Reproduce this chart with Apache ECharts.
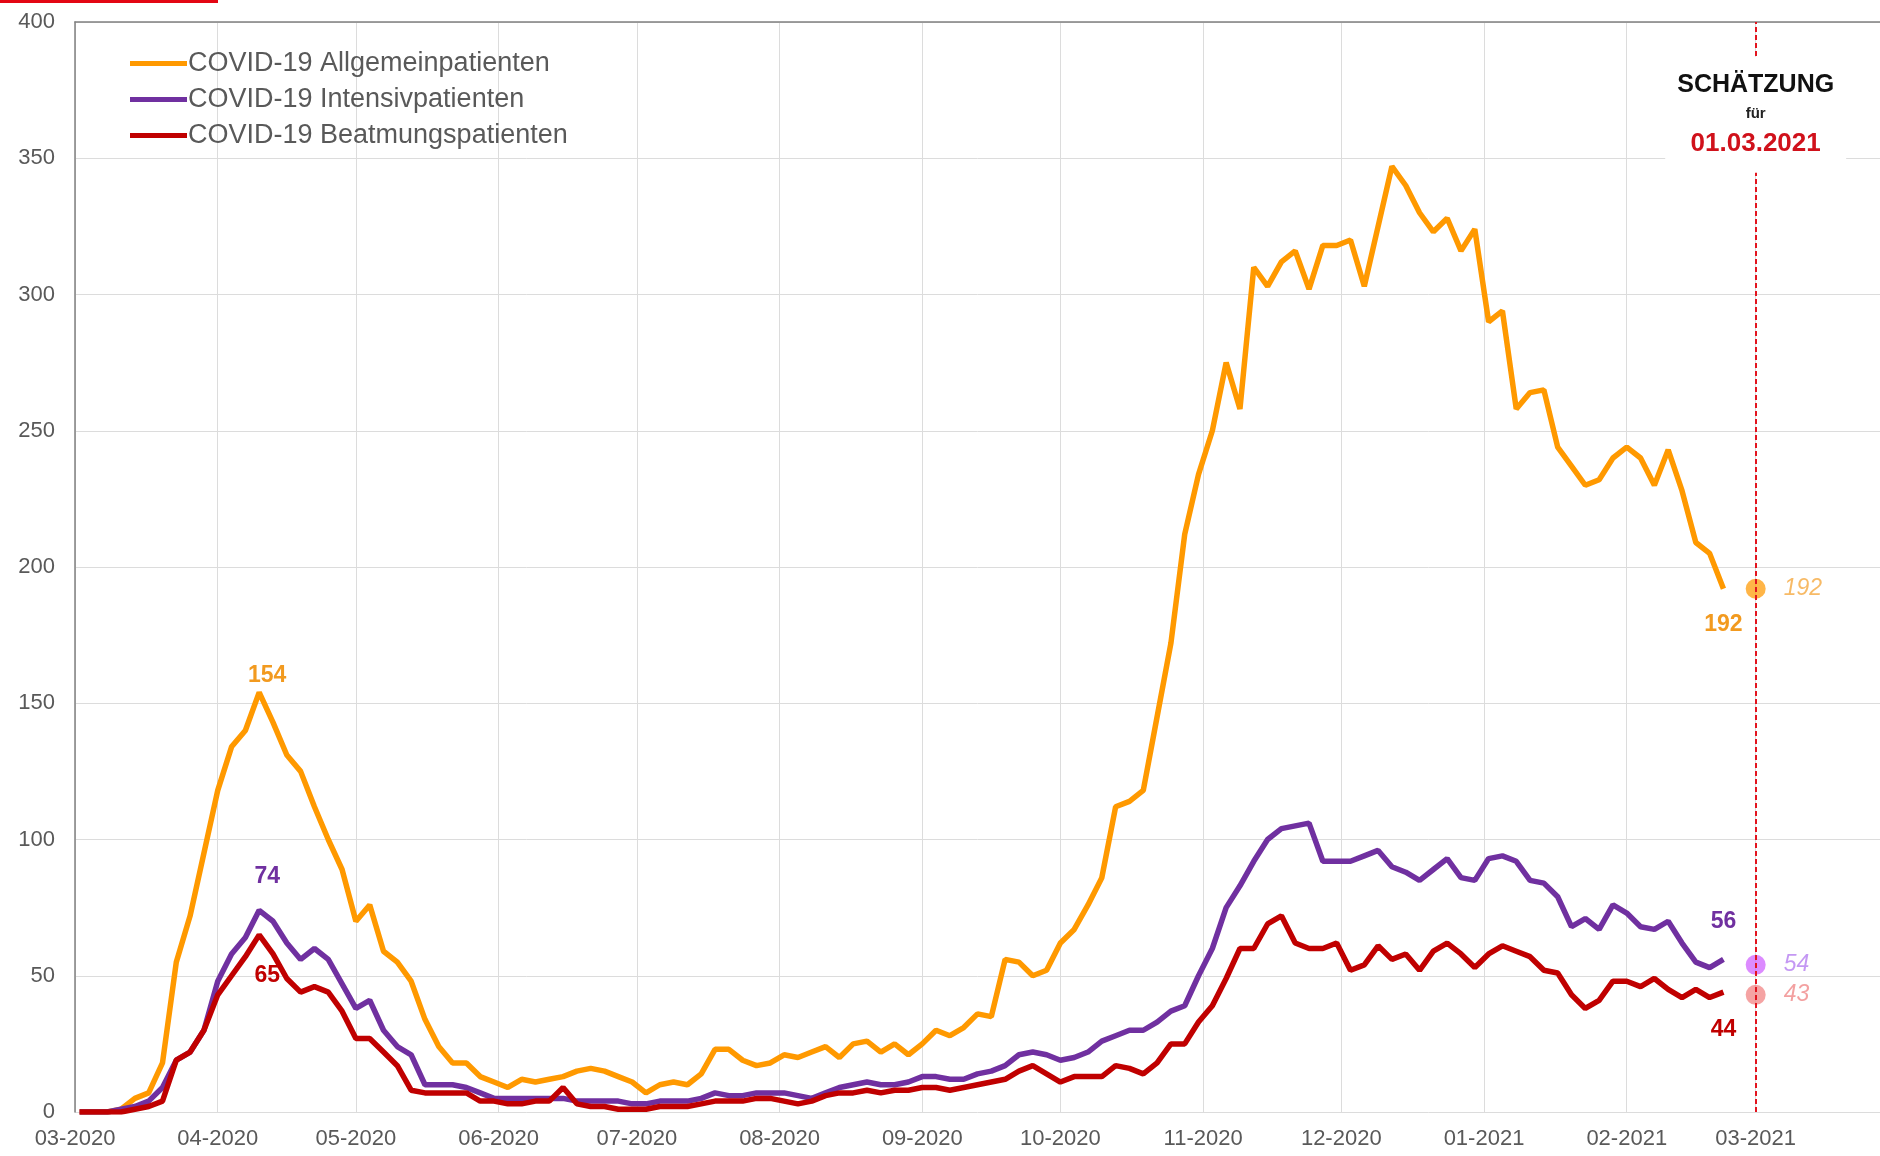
<!DOCTYPE html>
<html>
<head>
<meta charset="utf-8">
<title>COVID-19 Patienten</title>
<script src="https://cdn.jsdelivr.net/npm/echarts@6/dist/echarts.min.js"></script>
<style>
    html, body { margin: 0; padding: 0; background: #fff; }
    #chart { width: 1880px; height: 1156px; }
</style>
</head>
<body>
<div id="chart"></div>
<script>
const seriesNames = ['COVID-19 Allgemeinpatienten', 'COVID-19 Intensivpatienten', 'COVID-19 Beatmungspatienten'];
// one reading every 3 days, first one on 02.03.2020
const firstDay = [2020, 2, 2];
const stepDays = 3;
const allgemein = [
    0, 0, 0, 1, 5, 7, 18, 55, 72, 95,
    118, 134, 140, 154, 143, 131, 125, 112, 100, 89,
    70, 76, 59, 55, 48, 34, 24, 18, 18, 13,
    11, 9, 12, 11, 12, 13, 15, 16, 15, 13,
    11, 7, 10, 11, 10, 14, 23, 23, 19, 17,
    18, 21, 20, 22, 24, 20, 25, 26, 22, 25,
    21, 25, 30, 28, 31, 36, 35, 56, 55, 50,
    52, 62, 67, 76, 86, 112, 114, 118, 145, 172,
    212, 234, 250, 275, 258, 310, 303, 312, 316, 302,
    318, 318, 320, 303, 325, 347, 340, 330, 323, 328,
    316, 324, 290, 294, 258, 264, 265, 244, 237, 230,
    232, 240, 244, 240, 230, 243, 228, 209, 205, 192
];
const intensiv = [
    0, 0, 0, 1, 2, 4, 9, 19, 22, 30,
    48, 58, 64, 74, 70, 62, 56, 60, 56, 47,
    38, 41, 30, 24, 21, 10, 10, 10, 9, 7,
    5, 5, 5, 5, 5, 5, 4, 4, 4, 4,
    3, 3, 4, 4, 4, 5, 7, 6, 6, 7,
    7, 7, 6, 5, 7, 9, 10, 11, 10, 10,
    11, 13, 13, 12, 12, 14, 15, 17, 21, 22,
    21, 19, 20, 22, 26, 28, 30, 30, 33, 37,
    39, 50, 60, 75, 83, 92, 100, 104, 105, 106,
    92, 92, 92, 94, 96, 90, 88, 85, 89, 93,
    86, 85, 93, 94, 92, 85, 84, 79, 68, 71,
    67, 76, 73, 68, 67, 70, 62, 55, 53, 56
];
const beatmung = [
    0, 0, 0, 0, 1, 2, 4, 19, 22, 30,
    43, 50, 57, 65, 58, 49, 44, 46, 44, 37,
    27, 27, 22, 17, 8, 7, 7, 7, 7, 4,
    4, 3, 3, 4, 4, 9, 3, 2, 2, 1,
    1, 1, 2, 2, 2, 3, 4, 4, 4, 5,
    5, 4, 3, 4, 6, 7, 7, 8, 7, 8,
    8, 9, 9, 8, 9, 10, 11, 12, 15, 17,
    14, 11, 13, 13, 13, 17, 16, 14, 18, 25,
    25, 33, 39, 49, 60, 60, 69, 72, 62, 60,
    60, 62, 52, 54, 61, 56, 58, 52, 59, 62,
    58, 53, 58, 61, 59, 57, 52, 51, 43, 38,
    41, 48, 48, 46, 49, 45, 42, 45, 42, 44
];
// the peak of the first wave is labelled, it lies in the first readings
const firstWavePoints = 30;
const estimateDate = [2021, 2, 1];
const estimates = [192, 54, 43];
const axisStart = [2020, 2, 1];
const axisEnd = [2021, 2, 28];
const yMin = 0;
const yMax = 400;
const yStep = 50;

const DAY = 24 * 3600 * 1000;
const font = "'Liberation Sans', Arial, sans-serif";
const lineColors = ['#FF9900', '#7030A0', '#C00000'];
const labelColors = ['#F29A1F', '#7030A0', '#C00000'];
const dotColors = ['rgba(255,153,0,0.9)', 'rgba(204,85,255,0.85)', 'rgba(240,120,120,0.85)'];
const estLabelColors = ['#F5A940', '#B57EF0', '#F08A8A'];

function toTime(parts) {
    return new Date(parts[0], parts[1], parts[2]).getTime();
}
function withDates(values) {
    return values.map(function(v, i) {
        return [new Date(firstDay[0], firstDay[1], firstDay[2] + stepDays * i).getTime(), v];
    });
}

var estTime = toTime(estimateDate);
var allValues = [allgemein, intensiv, beatmung];
// label placement: [peak position, peak distance, end position, end distance]
var labelPlaces = [
    ['top', 5, 'bottom', 24],
    ['top', 22, 'top', 26],
    ['bottom', 29, 'bottom', 26]
];

var lineSeries = allValues.map(function(values, k) {
    var data = withDates(values);
    var last = data[data.length - 1];
    var peak = 0;
    for (var i = 1; i < firstWavePoints; i++) {
        if (values[i] > values[peak]) peak = i;
    }
    var lbl = function(pos, dist, dx) {
        return {
            show: true, position: pos, distance: dist, offset: [dx, 0], formatter: '{c}',
            color: labelColors[k], fontSize: 23, fontWeight: 'bold', fontFamily: font
        };
    };
    return {
        name: seriesNames[k],
        type: 'line',
        data: data,
        showSymbol: false,
        symbol: 'none',
        lineStyle: { color: lineColors[k], width: 5.5 },
        itemStyle: { color: lineColors[k] },
        emphasis: { disabled: true },
        markPoint: {
            symbol: 'circle',
            symbolSize: 1,
            itemStyle: { color: 'transparent' },
            data: [
                { coord: data[peak], value: values[peak], label: lbl(labelPlaces[k][0], labelPlaces[k][1], 8) },
                { coord: last, value: last[1], label: lbl(labelPlaces[k][2], labelPlaces[k][3], 0) }
            ]
        }
    };
});

var estimateSeries = {
    name: 'Schätzung',
    type: 'scatter',
    symbolSize: 20,
    data: estimates.map(function(v, k) {
        return {
            value: [estTime, v],
            itemStyle: { color: dotColors[k] },
            label: { color: estLabelColors[k] }
        };
    }),
    label: {
        show: true, position: 'right', distance: 18, formatter: function(p) { return p.value[1]; },
        fontSize: 23, fontStyle: 'italic', fontFamily: font
    },
    markLine: {
        symbol: 'none',
        silent: true,
        label: { show: false },
        lineStyle: { color: '#E3141E', type: [5, 3], width: 2 },
        data: [{ xAxis: estTime }]
    },
    markPoint: {
        z: 10,
        symbol: 'circle',
        symbolSize: 0,
        data: [{ coord: [estTime, 366] }],
        label: {
            show: true,
            position: 'inside',
            backgroundColor: '#fff',
            padding: [12, 12],
            align: 'center',
            formatter: '{a|SCHÄTZUNG}\n{b|für}\n{c|01.03.2021}',
            rich: {
                a: { fontSize: 25, fontWeight: 'bold', color: '#111', lineHeight: 32, fontFamily: font, align: 'center' },
                b: { fontSize: 15, fontWeight: 'bold', color: '#222', lineHeight: 26, fontFamily: font, align: 'center' },
                c: { fontSize: 26, fontWeight: 'bold', color: '#D0111B', lineHeight: 34, fontFamily: font, align: 'center' }
            }
        }
    }
};

var option = {
    animation: false,
    backgroundColor: '#fff',
    textStyle: { fontFamily: font },
    grid: { left: 75, right: 0, top: 22, bottom: 44 },
    legend: {
        data: seriesNames,
        orient: 'vertical',
        left: 125,
        top: 45,
        itemWidth: 57,
        itemHeight: 5,
        itemGap: 9,
        icon: 'rect',
        textStyle: { color: '#595959', fontSize: 27, fontFamily: font, padding: [0, 0, 0, -4] }
    },
    xAxis: [{
        type: 'time',
        min: toTime(axisStart),
        max: toTime(axisEnd),
        minInterval: 28 * DAY,
        maxInterval: 31 * DAY,
        axisLine: { show: false },
        axisTick: { show: false },
        axisLabel: {
            color: '#595959', fontSize: 22, margin: 16, fontFamily: font,
            formatter: function(v) { return echarts.time.format(v, '{MM}-{yyyy}', false); }
        },
        splitLine: { show: true, lineStyle: { color: '#dcdcdc', width: 1 } }
    }, {
        type: 'time',
        position: 'top',
        min: toTime(axisStart),
        max: toTime(axisEnd),
        axisLine: { show: true, lineStyle: { color: '#808080', width: 1.5 } },
        axisTick: { show: false },
        axisLabel: { show: false },
        splitLine: { show: false }
    }],
    yAxis: {
        type: 'value',
        min: yMin,
        max: yMax,
        interval: yStep,
        axisLine: { show: true, lineStyle: { color: '#808080', width: 1.5 } },
        axisTick: { show: false },
        axisLabel: { color: '#595959', fontSize: 22, margin: 20, fontFamily: font },
        splitLine: { lineStyle: { color: '#dcdcdc', width: 1 } }
    },
    graphic: [{
        type: 'rect',
        left: 0,
        top: 0,
        shape: { width: 218, height: 3 },
        style: { fill: '#E30613' }
    }],
    series: lineSeries.concat([estimateSeries])
};

var chart = echarts.init(document.getElementById('chart'));
chart.setOption(option);
window.addEventListener('resize', function() {
    chart.resize();
});
</script>
</body>
</html>
